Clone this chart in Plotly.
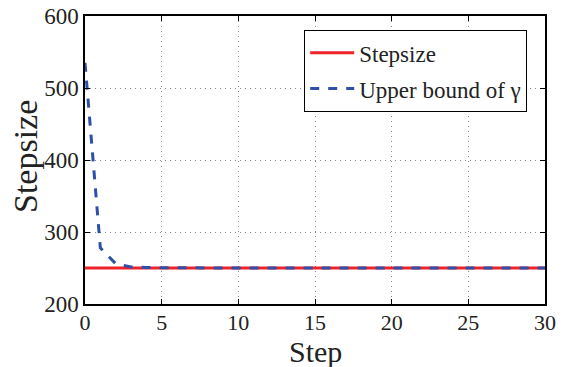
import plotly.graph_objects as go

steps = list(range(31))
stepsize = [250, 250, 250, 250, 250, 250, 250, 250, 250, 250, 250,
            250, 250, 250, 250, 250, 250, 250, 250, 250, 250,
            250, 250, 250, 250, 250, 250, 250, 250, 250, 250]
upper_bound = [535, 278, 256, 251.5, 250.6, 250.3, 250.1, 250, 250, 250, 250,
               250, 250, 250, 250, 250, 250, 250, 250, 250, 250,
               250, 250, 250, 250, 250, 250, 250, 250, 250, 250]
x_ticks = [0, 5, 10, 15, 20, 25, 30]
y_ticks = [200, 300, 400, 500, 600]

FONT = "Liberation Serif, Times New Roman, serif"

fig = go.Figure()
fig.add_trace(go.Scatter(x=steps, y=stepsize, mode="lines", name="Stepsize",
                         legendgroup="a",
                         line=dict(color="#ee2229", width=3)))
fig.add_trace(go.Scatter(x=steps, y=upper_bound, mode="lines", name="Upper bound of γ",
                         legendgroup="b",
                         line=dict(color="#2f4fa8", width=3, dash="dash")))

axis_common = dict(showline=True, linecolor="black", linewidth=1.5, mirror="allticks",
                   ticks="inside", ticklen=5, tickcolor="black", automargin=False,
                   showgrid=True, gridcolor="#8a8a8a", griddash="1px,4px", gridwidth=1,
                   zeroline=False)

fig.update_layout(
    width=567, height=367,
    margin=dict(l=85, r=22, t=16, b=63, autoexpand=False),
    paper_bgcolor="white", plot_bgcolor="white",
    font=dict(family=FONT, color="#222"),
    xaxis=dict(range=[0, 30], tickvals=x_ticks, ticklabelstandoff=-2,
               tickfont=dict(family=FONT, size=22, color="#222"), **axis_common),
    yaxis=dict(range=[200, 600], tickvals=y_ticks,
               tickfont=dict(family=FONT, size=23, color="#222"), **axis_common),
    annotations=[
        dict(text="Stepsize", xref="paper", yref="paper",
             x=(25 - 85) / 460, y=(304 - 157) / 288,
             xanchor="center", yanchor="middle", textangle=-90,
             showarrow=False, font=dict(family=FONT, size=34, color="#222")),
        dict(text="Step", xref="paper", yref="paper",
             x=0.5, y=(304 - 370) / 288,
             xanchor="center", yanchor="bottom",
             showarrow=False, font=dict(family=FONT, size=30, color="#222")),
    ],
    legend=dict(x=(527 - 85) / 460, y=(304 - 30) / 288, xanchor="right", yanchor="top",
                bgcolor="white", bordercolor="black", borderwidth=1.2,
                font=dict(family=FONT, size=23, color="#222"),
                tracegroupgap=3, itemwidth=44),
    showlegend=True,
)

fig.write_html("out.html")
